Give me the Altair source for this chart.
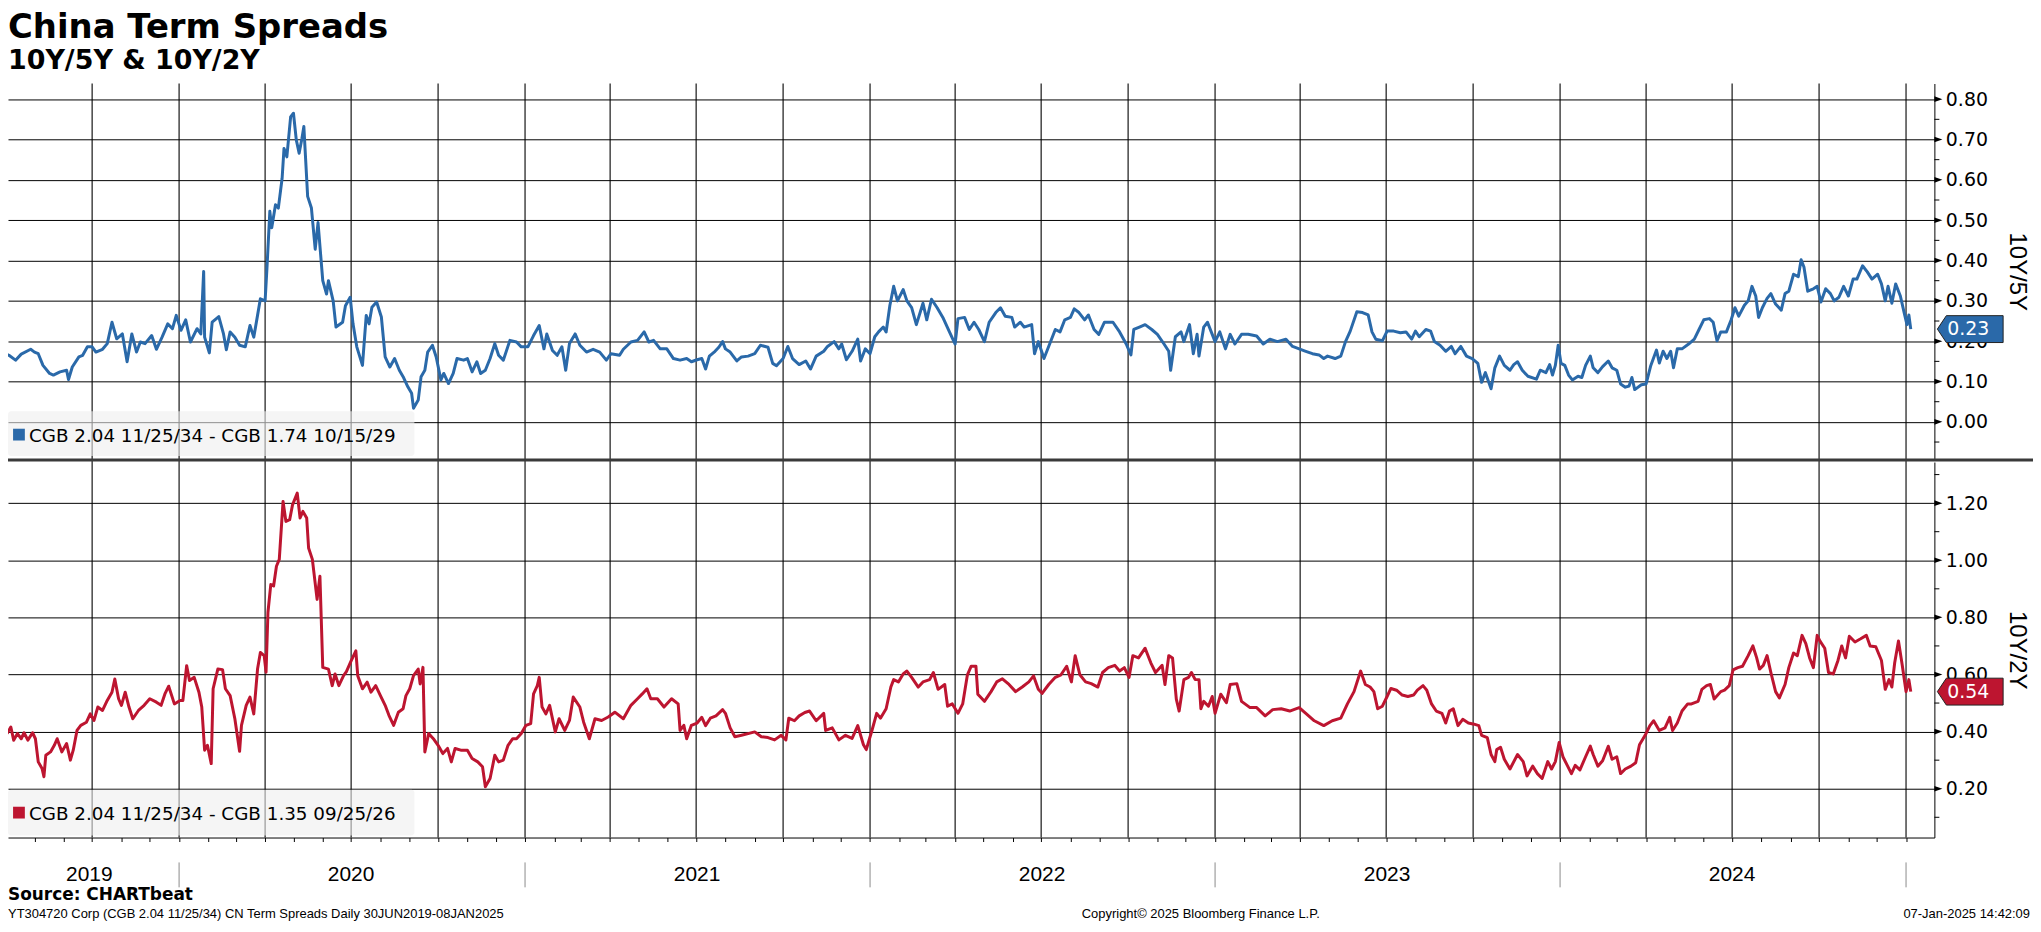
import altair as alt
import pandas as pd

BLUE = "#2a69a9"
RED = "#bd1530"
W, H = 1934, 757

# ---------------- data (dates as decimal years) ----------------
blue_t = [2019.496,2019.508,2019.527,2019.545,2019.570,2019.582,2019.594,2019.606,2019.625,2019.637,2019.656,2019.674,2019.680,2019.692,2019.711,2019.723,2019.735,2019.750,2019.760,2019.780,2019.793,2019.808,2019.821,2019.838,2019.851,2019.864,2019.877,2019.890,2019.903,2019.922,2019.935,2019.951,2019.968,2019.981,2019.994,2020.007,2020.020,2020.033,2020.052,2020.065,2020.072,2020.076,2020.089,2020.098,2020.117,2020.130,2020.137,2020.150,2020.162,2020.175,2020.192,2020.205,2020.218,2020.227,2020.237,2020.249,2020.255,2020.263,2020.270,2020.279,2020.288,2020.298,2020.304,2020.313,2020.324,2020.332,2020.339,2020.347,2020.356,2020.363,2020.373,2020.385,2020.395,2020.404,2020.417,2020.427,2020.434,2020.447,2020.456,2020.473,2020.482,2020.495,2020.505,2020.516,2020.531,2020.541,2020.550,2020.559,2020.572,2020.585,2020.598,2020.611,2020.624,2020.637,2020.650,2020.663,2020.674,2020.680,2020.693,2020.702,2020.712,2020.719,2020.733,2020.745,2020.758,2020.767,2020.780,2020.793,2020.806,2020.823,2020.835,2020.848,2020.861,2020.874,2020.887,2020.900,2020.913,2020.926,2020.939,2020.959,2020.978,2020.991,2021.010,2021.026,2021.043,2021.056,2021.065,2021.082,2021.095,2021.108,2021.120,2021.129,2021.146,2021.159,2021.179,2021.198,2021.218,2021.237,2021.250,2021.276,2021.285,2021.308,2021.328,2021.347,2021.360,2021.373,2021.392,2021.412,2021.431,2021.451,2021.470,2021.483,
2021.500,2021.513,2021.526,2021.535,2021.551,2021.564,2021.573,2021.583,2021.596,2021.615,2021.628,2021.648,2021.667,2021.683,2021.705,2021.718,2021.731,2021.750,2021.763,2021.776,2021.795,2021.814,2021.830,2021.846,2021.866,2021.878,2021.898,2021.911,2021.920,2021.932,2021.949,2021.966,2021.975,2021.988,2022.000,2022.014,2022.026,2022.039,2022.048,2022.058,2022.071,2022.081,2022.097,2022.109,2022.122,2022.135,2022.154,2022.167,2022.180,2022.197,2022.212,2022.231,2022.247,2022.257,2022.276,2022.289,2022.302,2022.317,2022.334,2022.347,2022.366,2022.379,2022.392,2022.411,2022.420,2022.437,2022.449,2022.471,2022.479,2022.488,2022.505,2022.523,2022.539,2022.552,2022.565,2022.582,2022.594,2022.607,2022.623,2022.635,2022.651,2022.664,2022.680,2022.706,2022.725,2022.745,2022.757,2022.766,2022.783,2022.800,2022.818,2022.834,2022.854,2022.866,2022.873,2022.886,2022.902,2022.911,2022.928,2022.937,2022.950,2022.956,2022.969,2022.979,2022.992,2023.001,2023.014,2023.031,2023.046,2023.059,2023.078,2023.097,2023.123,2023.142,2023.161,2023.181,2023.206,2023.226,2023.245,2023.264,2023.283,2023.303,2023.316,2023.328,2023.348,2023.367,2023.380,2023.392,2023.412,
2023.430,2023.446,2023.457,2023.468,2023.485,2023.500,2023.518,2023.539,2023.556,2023.570,2023.581,2023.594,2023.611,2023.627,2023.638,2023.654,2023.671,2023.687,2023.698,2023.715,2023.731,2023.747,2023.764,2023.775,2023.786,2023.802,2023.813,2023.826,2023.841,2023.855,2023.868,2023.879,2023.892,2023.909,2023.934,2023.945,2023.961,2023.972,2023.980,2023.988,2023.997,2024.005,2024.016,2024.027,2024.038,2024.052,2024.065,2024.076,2024.089,2024.098,2024.111,2024.125,2024.142,2024.153,2024.164,2024.175,2024.191,2024.202,2024.209,2024.218,2024.235,2024.251,2024.264,2024.279,2024.289,2024.300,2024.311,2024.322,2024.328,2024.339,2024.355,2024.372,2024.388,2024.404,2024.418,2024.432,2024.443,2024.454,2024.465,2024.481,2024.497,2024.508,2024.519,2024.535,2024.546,2024.557,2024.566,2024.574,2024.585,2024.601,2024.612,2024.623,2024.640,2024.651,2024.662,2024.676,2024.689,2024.698,2024.705,2024.716,2024.733,2024.744,2024.755,2024.768,2024.782,2024.793,2024.807,2024.820,2024.834,2024.848,2024.859,2024.875,2024.888,2024.903,2024.919,2024.930,2024.941,2024.950,2024.961,2024.972,2024.985,2024.996,2025.004,2025.009,2025.016]
blue_v = [0.169,0.165,0.153,0.168,0.180,0.173,0.169,0.140,0.120,0.116,0.124,0.128,0.105,0.136,0.161,0.165,0.186,0.186,0.173,0.180,0.194,0.247,0.206,0.218,0.149,0.218,0.173,0.198,0.194,0.214,0.180,0.210,0.243,0.231,0.264,0.227,0.253,0.198,0.231,0.218,0.373,0.210,0.171,0.247,0.261,0.218,0.179,0.223,0.210,0.190,0.186,0.239,0.210,0.264,0.305,0.300,0.383,0.522,0.481,0.538,0.530,0.604,0.678,0.657,0.756,0.765,0.699,0.666,0.703,0.732,0.559,0.530,0.428,0.494,0.350,0.317,0.350,0.300,0.235,0.247,0.288,0.309,0.243,0.186,0.140,0.264,0.243,0.284,0.297,0.260,0.161,0.136,0.157,0.128,0.112,0.087,0.071,0.034,0.054,0.112,0.128,0.173,0.190,0.161,0.104,0.120,0.095,0.120,0.157,0.153,0.157,0.124,0.149,0.120,0.128,0.157,0.194,0.165,0.153,0.202,0.198,0.186,0.186,0.214,0.239,0.181,0.218,0.177,0.165,0.186,0.128,0.194,0.218,0.190,0.173,0.180,0.173,0.153,0.169,0.165,0.180,0.198,0.202,0.223,0.198,0.202,0.181,0.181,0.157,0.153,0.157,0.149,
0.154,0.157,0.131,0.163,0.175,0.185,0.199,0.181,0.173,0.151,0.161,0.163,0.169,0.190,0.185,0.145,0.139,0.157,0.187,0.157,0.142,0.151,0.131,0.163,0.175,0.187,0.199,0.181,0.193,0.154,0.175,0.205,0.151,0.181,0.169,0.211,0.223,0.235,0.223,0.289,0.336,0.300,0.328,0.300,0.283,0.241,0.294,0.253,0.304,0.283,0.259,0.223,0.193,0.256,0.259,0.229,0.247,0.229,0.199,0.247,0.271,0.283,0.262,0.259,0.235,0.247,0.235,0.241,0.169,0.199,0.157,0.193,0.229,0.223,0.253,0.259,0.280,0.271,0.253,0.265,0.229,0.217,0.247,0.247,0.223,0.193,0.166,0.229,0.235,0.241,0.229,0.217,0.193,0.175,0.128,0.211,0.223,0.199,0.241,0.169,0.217,0.163,0.235,0.247,0.217,0.199,0.223,0.181,0.217,0.193,0.217,0.217,0.213,0.193,0.205,0.199,0.205,0.187,0.181,0.175,0.169,0.166,0.157,0.163,0.157,0.163,0.199,0.225,0.273,
0.271,0.265,0.223,0.205,0.201,0.225,0.225,0.221,0.223,0.205,0.225,0.211,0.229,0.225,0.199,0.190,0.175,0.187,0.169,0.187,0.163,0.157,0.145,0.098,0.122,0.082,0.134,0.163,0.140,0.128,0.142,0.149,0.128,0.113,0.106,0.128,0.122,0.142,0.116,0.140,0.190,0.145,0.140,0.116,0.104,0.113,0.110,0.140,0.163,0.134,0.122,0.137,0.151,0.134,0.128,0.094,0.086,0.089,0.110,0.080,0.092,0.094,0.140,0.178,0.146,0.175,0.157,0.175,0.134,0.181,0.181,0.193,0.205,0.229,0.253,0.256,0.247,0.201,0.223,0.223,0.253,0.283,0.262,0.289,0.300,0.336,0.312,0.259,0.283,0.306,0.318,0.292,0.277,0.318,0.324,0.366,0.360,0.402,0.384,0.324,0.330,0.336,0.297,0.330,0.318,0.300,0.309,0.336,0.312,0.354,0.354,0.387,0.372,0.354,0.366,0.342,0.300,0.336,0.294,0.342,0.312,0.271,0.241,0.265,0.230]

red_t = [2019.502,2019.514,2019.523,2019.533,2019.543,2019.551,2019.563,2019.576,2019.584,2019.594,2019.604,2019.609,2019.616,2019.629,2019.641,2019.649,2019.662,2019.674,2019.686,2019.695,2019.705,2019.717,2019.732,2019.744,2019.754,2019.767,2019.780,2019.793,2019.806,2019.816,2019.825,2019.834,2019.845,2019.855,2019.868,2019.883,2019.899,2019.916,2019.935,2019.948,2019.961,2019.971,2019.987,2020.003,2020.013,2020.023,2020.032,2020.045,2020.058,2020.067,2020.075,2020.084,2020.093,2020.101,2020.114,2020.127,2020.136,2020.149,2020.162,2020.175,2020.181,2020.194,2020.207,2020.218,2020.227,2020.237,2020.246,2020.253,2020.259,2020.266,2020.275,2020.282,2020.291,2020.302,2020.311,2020.321,2020.330,2020.343,2020.350,2020.360,2020.369,2020.376,2020.386,2020.399,2020.409,2020.417,2020.434,2020.443,2020.453,2020.464,2020.477,2020.486,2020.499,2020.512,2020.518,2020.531,2020.544,2020.557,2020.570,2020.583,2020.596,2020.609,2020.622,2020.635,2020.648,2020.658,2020.667,2020.680,2020.693,2020.699,2020.707,2020.712,2020.723,2020.736,2020.751,2020.764,2020.777,2020.788,2020.800,2020.816,2020.835,2020.848,2020.865,2020.878,2020.887,2020.900,2020.913,2020.926,2020.939,2020.952,2020.965,2020.978,2020.991,2021.004,2021.017,2021.026,2021.036,2021.043,2021.052,2021.062,2021.073,2021.088,2021.101,2021.117,2021.129,2021.142,2021.159,2021.172,2021.189,2021.205,2021.224,2021.243,2021.263,2021.285,2021.308,2021.328,2021.341,2021.354,2021.367,2021.386,2021.405,2021.425,2021.444,2021.451,2021.461,2021.470,2021.483,
2021.500,2021.513,2021.526,2021.538,2021.555,2021.573,2021.583,2021.596,2021.609,2021.628,2021.648,2021.667,2021.686,2021.705,2021.725,2021.744,2021.757,2021.766,2021.782,2021.795,2021.812,2021.827,2021.846,2021.866,2021.872,2021.891,2021.911,2021.930,2021.949,2021.966,2021.981,2021.991,2022.007,2022.020,2022.032,2022.048,2022.061,2022.071,2022.084,2022.097,2022.109,2022.122,2022.142,2022.154,2022.174,2022.186,2022.199,2022.218,2022.225,2022.240,2022.257,2022.270,2022.283,2022.295,2022.308,2022.315,2022.334,2022.353,2022.369,2022.385,2022.405,2022.424,2022.443,2022.462,2022.475,2022.488,2022.501,2022.520,2022.539,2022.556,2022.571,2022.584,2022.597,2022.610,2022.625,2022.642,2022.661,2022.674,2022.693,2022.710,2022.725,2022.738,2022.753,2022.764,2022.779,2022.800,2022.815,2022.830,2022.847,2022.856,2022.866,2022.877,2022.889,2022.898,2022.911,2022.924,2022.933,2022.943,2022.954,2022.959,2022.969,2022.982,2022.992,2023.001,2023.018,2023.033,2023.046,2023.065,2023.078,2023.104,2023.123,2023.146,2023.168,2023.194,2023.219,2023.245,2023.264,2023.290,2023.316,2023.341,2023.367,2023.386,2023.405,2023.424,2023.437,
2023.452,2023.463,2023.472,2023.485,2023.500,2023.512,2023.528,2023.545,2023.561,2023.578,2023.589,2023.603,2023.616,2023.629,2023.643,2023.660,2023.671,2023.682,2023.693,2023.706,2023.720,2023.736,2023.753,2023.767,2023.775,2023.791,2023.802,2023.811,2023.819,2023.830,2023.841,2023.857,2023.879,2023.895,2023.906,2023.923,2023.936,2023.950,2023.966,2023.977,2023.988,2023.999,2024.010,2024.023,2024.034,2024.045,2024.060,2024.076,2024.089,2024.098,2024.111,2024.125,2024.142,2024.153,2024.164,2024.175,2024.191,2024.207,2024.220,2024.231,2024.246,2024.262,2024.273,2024.289,2024.306,2024.317,2024.326,2024.339,2024.355,2024.369,2024.382,2024.399,2024.410,2024.424,2024.437,2024.448,2024.465,2024.476,2024.490,2024.501,2024.514,2024.530,2024.544,2024.559,2024.569,2024.579,2024.590,2024.601,2024.612,2024.623,2024.636,2024.651,2024.662,2024.676,2024.687,2024.702,2024.711,2024.722,2024.733,2024.744,2024.753,2024.766,2024.777,2024.790,2024.804,2024.815,2024.826,2024.837,2024.853,2024.870,2024.886,2024.897,2024.913,2024.930,2024.941,2024.952,2024.960,2024.968,2024.979,2024.990,2025.001,2025.009,2025.016]
red_v = [0.393,0.416,0.370,0.393,0.375,0.396,0.370,0.396,0.375,0.294,0.271,0.242,0.317,0.329,0.352,0.375,0.329,0.358,0.300,0.335,0.404,0.422,0.433,0.462,0.439,0.486,0.474,0.509,0.538,0.584,0.515,0.492,0.538,0.486,0.445,0.474,0.492,0.515,0.503,0.492,0.532,0.559,0.497,0.509,0.509,0.631,0.579,0.590,0.538,0.486,0.335,0.352,0.288,0.550,0.619,0.617,0.550,0.526,0.445,0.331,0.422,0.492,0.521,0.462,0.619,0.677,0.666,0.608,0.817,0.915,0.910,0.979,1.003,1.206,1.136,1.142,1.194,1.235,1.148,1.171,1.148,1.043,1.003,0.863,0.944,0.625,0.619,0.561,0.602,0.561,0.596,0.610,0.648,0.683,0.596,0.550,0.573,0.538,0.561,0.526,0.492,0.457,0.422,0.468,0.480,0.526,0.550,0.596,0.619,0.567,0.625,0.329,0.393,0.375,0.352,0.323,0.341,0.294,0.341,0.335,0.335,0.306,0.294,0.277,0.207,0.236,0.317,0.294,0.300,0.352,0.375,0.375,0.393,0.422,0.428,0.532,0.561,0.590,0.486,0.462,0.492,0.399,0.445,0.404,0.439,0.521,0.486,0.433,0.375,0.445,0.439,0.451,0.468,0.445,0.492,0.515,0.532,0.550,0.515,0.515,0.486,0.515,0.497,0.404,0.422,0.375,0.422,
0.430,0.450,0.421,0.447,0.455,0.477,0.464,0.413,0.382,0.387,0.393,0.399,0.382,0.379,0.371,0.387,0.371,0.447,0.438,0.455,0.467,0.472,0.438,0.464,0.404,0.413,0.371,0.387,0.376,0.421,0.354,0.337,0.404,0.464,0.447,0.480,0.556,0.582,0.574,0.602,0.612,0.590,0.556,0.574,0.582,0.607,0.548,0.565,0.489,0.497,0.464,0.497,0.599,0.629,0.629,0.531,0.506,0.540,0.574,0.585,0.565,0.540,0.556,0.574,0.595,0.548,0.534,0.565,0.590,0.599,0.629,0.574,0.666,0.599,0.574,0.568,0.556,0.607,0.624,0.632,0.612,0.624,0.590,0.666,0.658,0.692,0.641,0.607,0.632,0.565,0.666,0.658,0.514,0.472,0.582,0.590,0.607,0.582,0.582,0.480,0.506,0.489,0.523,0.464,0.531,0.501,0.565,0.568,0.506,0.484,0.484,0.455,0.477,0.480,0.472,0.484,0.464,0.438,0.421,0.438,0.447,0.497,0.540,0.612,0.565,
0.556,0.540,0.480,0.489,0.523,0.551,0.545,0.528,0.523,0.528,0.545,0.561,0.545,0.497,0.472,0.464,0.430,0.472,0.480,0.421,0.443,0.430,0.426,0.421,0.387,0.379,0.320,0.295,0.337,0.345,0.303,0.269,0.320,0.295,0.245,0.279,0.253,0.236,0.295,0.269,0.295,0.362,0.312,0.279,0.253,0.282,0.266,0.312,0.349,0.320,0.279,0.298,0.349,0.303,0.312,0.253,0.269,0.279,0.291,0.354,0.387,0.421,0.438,0.404,0.413,0.450,0.404,0.430,0.472,0.497,0.497,0.506,0.548,0.561,0.565,0.514,0.540,0.545,0.561,0.616,0.624,0.629,0.666,0.700,0.658,0.619,0.632,0.666,0.607,0.540,0.518,0.565,0.624,0.675,0.666,0.737,0.708,0.658,0.624,0.737,0.717,0.692,0.607,0.602,0.649,0.700,0.658,0.734,0.714,0.725,0.737,0.700,0.697,0.649,0.548,0.582,0.556,0.641,0.717,0.632,0.540,0.582,0.540]

top_ticks = [0.0, 0.1, 0.2, 0.3, 0.4, 0.5, 0.6, 0.7, 0.8]
top_minor = [-0.05, 0.05, 0.15, 0.25, 0.35, 0.45, 0.55, 0.65, 0.75]
bot_ticks = [0.2, 0.4, 0.6, 0.8, 1.0, 1.2]
bot_minor = [0.1, 0.3, 0.5, 0.7, 0.9, 1.1, 1.3]
quarter_lines = ["2019-10-01", "2020-01-01", "2020-04-01", "2020-07-01", "2020-10-01",
                 "2021-01-01", "2021-04-01", "2021-07-01", "2021-10-01", "2022-01-01",
                 "2022-04-01", "2022-07-01", "2022-10-01", "2023-01-01", "2023-04-01",
                 "2023-07-01", "2023-10-01", "2024-01-01", "2024-04-01", "2024-07-01",
                 "2024-10-01", "2025-01-01"]
year_bounds = ["2020-01-01", "2021-01-01", "2022-01-01", "2023-01-01", "2024-01-01", "2025-01-01"]
year_labels = ["2019", "2020", "2021", "2022", "2023", "2024"]
year_label_dates = ["2019-09-28", "2020-07-01", "2021-07-02", "2022-07-02", "2023-07-02", "2024-07-01"]
legend_top = ["CGB 2.04 11/25/34 - CGB 1.74 10/15/29"]
legend_bot = ["CGB 2.04 11/25/34 - CGB 1.35 09/25/26"]
title_text = ["China Term Spreads"]
subtitle_text = ["10Y/5Y & 10Y/2Y"]
source_text = ["Source: CHARTbeat"]
footer_left = ["YT304720 Corp (CGB 2.04 11/25/34) CN Term Spreads  Daily 30JUN2019-08JAN2025"]
footer_mid = ["Copyright\u00a9 2025 Bloomberg Finance L.P."]
footer_right = ["07-Jan-2025 14:42:09"]


def dec_to_ts(t):
    y = int(t)
    s = pd.Timestamp(y, 1, 1)
    e = pd.Timestamp(y + 1, 1, 1)
    return (s + (e - s) * (t - y)).normalize()


blue_df = pd.DataFrame({"date": [dec_to_ts(t) for t in blue_t], "v": blue_v})
red_df = pd.DataFrame({"date": [dec_to_ts(t) for t in red_t], "v": red_v})

x_scale = alt.Scale(domain=["2019-07-04T00:00:00", "2025-01-31T00:00:00"])
month_vals = []
for yy in range(2019, 2026):
    for mm in range(1, 13):
        if (yy, mm) < (2019, 8) or (yy, mm) > (2025, 1):
            continue
        month_vals.append(alt.DateTime(year=yy, month=mm, date=1))
x_axis = alt.Axis(values=month_vals, grid=False, labels=False, ticks=True, tickSize=4,
                  tickColor="#000", tickWidth=1, domain=True, domainColor="#000",
                  domainWidth=1, title=None)


def xenc(field):
    return alt.X(f"{field}:T", scale=x_scale, axis=x_axis, title=None)


top_scale = alt.Scale(domain=[-0.0921, 0.8388], range=[377, 0], nice=False, zero=False)
bot_scale = alt.Scale(domain=[0.0291, 1.344], range=[757, 380], nice=False, zero=False)


def make_axis(vals, title, ty):
    return alt.Axis(orient="right", values=vals, format=".2f", grid=True, gridColor="#000",
                    gridWidth=1, gridOpacity=1, domain=True, domainColor="#000", domainWidth=1,
                    ticks=False, tickSize=0, labelPadding=11, labelFont="DejaVu Sans",
                    labelFontSize=19, labelColor="#000", labelOverlap=False, labelFlush=False,
                    title=title, titleFont="Liberation Sans", titleFontSize=24,
                    titleFontWeight="normal", titleColor="#000", titleAngle=90,
                    titleBaseline="middle", titleAlign="center", titleX=82, titleY=ty)


top_axis = make_axis(top_ticks, "10Y/5Y", 188.5)
bot_axis = make_axis(bot_ticks, "10Y/2Y", 568.5)


def ytop(field):
    return alt.Y(f"{field}:Q", scale=top_scale, axis=top_axis)


def ybot(field):
    return alt.Y(f"{field}:Q", scale=bot_scale, axis=bot_axis)


TRI = "M-1,-0.7L1,0L-1,0.7Z"
BOX = "M-1,0L-0.727,-0.409L1,-0.409L1,0.409L-0.727,0.409Z"

one = pd.DataFrame({"k": [0]})

# ---------------- top panel ----------------
vgrid = alt.Chart(pd.DataFrame({"d": pd.to_datetime(quarter_lines)})).mark_rule(
    color="#000", strokeWidth=1.1).encode(x=xenc("d"), y=alt.value(0), y2=alt.value(H))


def panel(df, ticks, minor, yfn, color, legend, y0, y1, sq_y, txt_y):
    line = alt.Chart(df).mark_line(color=color, strokeWidth=3, clip=True,
                                   strokeJoin="round").encode(x=xenc("date"), y=yfn("v"))
    leg_box = alt.Chart(one).mark_rect(fill="#eeeeee", opacity=0.6, cornerRadius=3).encode(
        x=alt.value(0), x2=alt.value(408), y=alt.value(y0), y2=alt.value(y1))
    leg_sq = alt.Chart(one).mark_square(size=140, color=color, filled=True, opacity=1).encode(
        x=alt.value(11), y=alt.value(sq_y))
    leg_txt = alt.Chart(pd.DataFrame({"label": legend})).mark_text(
        align="left", baseline="alphabetic", font="DejaVu Sans", fontSize=18.4,
        color="#000").encode(x=alt.value(21), y=alt.value(txt_y), text="label:N")
    tri = alt.Chart(pd.DataFrame({"v": ticks})).mark_point(
        shape=TRI, size=64, filled=True, color="#000", opacity=1, strokeWidth=0).encode(
        x=alt.value(W + 4), y=yfn("v"))
    mtick = alt.Chart(pd.DataFrame({"v": minor})).mark_rule(color="#000", strokeWidth=1).encode(
        x=alt.value(W), x2=alt.value(W + 5), y=yfn("v"))
    last = df.tail(1)
    vbox = alt.Chart(last).mark_point(
        shape=BOX, size=4356, filled=True, fill=color, stroke="#222", strokeWidth=1,
        opacity=1).encode(x=alt.value(W + 36), y=yfn("v"))
    vtxt = alt.Chart(last).mark_text(
        color="#fff", font="DejaVu Sans", fontSize=19, align="center",
        baseline="middle").encode(x=alt.value(W + 34), y=yfn("v"),
                                  text=alt.Text("v:Q", format=".2f"))
    return [leg_box, leg_sq, leg_txt, line, mtick, tri, vbox, vtxt]


def text_layer(vals, x, y, size, bold=False, font="DejaVu Sans", align="left"):
    return alt.Chart(pd.DataFrame({"t": vals})).mark_text(
        align=align, baseline="alphabetic", font=font, fontSize=size,
        fontWeight="bold" if bold else "normal", color="#000").encode(
        x=alt.value(x), y=alt.value(y), text="t:N")


title_l = text_layer(title_text, 0, -46, 34, bold=True)
subtitle_l = text_layer(subtitle_text, 0, -15, 27, bold=True)

top_group = alt.layer(vgrid, *panel(blue_df, top_ticks, top_minor, ytop, BLUE, legend_top,
                                      329, 374, 352.5, 359.7), title_l, subtitle_l)

# ---------------- bottom panel + x axis decorations ----------------
separator = alt.Chart(one).mark_rule(color="#3a3a3a", strokeWidth=3).encode(
    x=alt.value(-8), x2=alt.value(W + 99), y=alt.value(378))
year_sep = alt.Chart(pd.DataFrame({"d": pd.to_datetime(year_bounds)})).mark_rule(
    color="#8a8a8a", strokeWidth=1).encode(x=xenc("d"), y=alt.value(782), y2=alt.value(807))
year_txt = alt.Chart(pd.DataFrame({"d": pd.to_datetime(year_label_dates), "lab": year_labels})).mark_text(
    font="Liberation Sans", fontSize=21, align="center", baseline="middle", color="#000").encode(
    x=xenc("d"), y=alt.value(795), text="lab:N")
source_l = text_layer(source_text, 0, 820, 17, bold=True)
foot_l = text_layer(footer_left, 0, 838, 13, font="Liberation Sans")
foot_m = text_layer(footer_mid, 1078, 838, 13, font="Liberation Sans")
foot_r = text_layer(footer_right, 2030, 838, 13, font="Liberation Sans", align="right")

bot_group = alt.layer(*panel(red_df, bot_ticks, bot_minor, ybot, RED, legend_bot,
                              709, 755, 732, 739.7),
                      separator, year_sep, year_txt, source_l, foot_l, foot_m, foot_r)

chart = alt.layer(top_group, bot_group).resolve_scale(y="independent").properties(
    width=W, height=H,
    autosize=alt.AutoSizeParams(type="none"),
    padding={"left": 0, "top": 74, "right": 99, "bottom": 84},
).configure_view(stroke=None)

chart.save("out.html", embed_options={"renderer": "svg", "actions": False})
